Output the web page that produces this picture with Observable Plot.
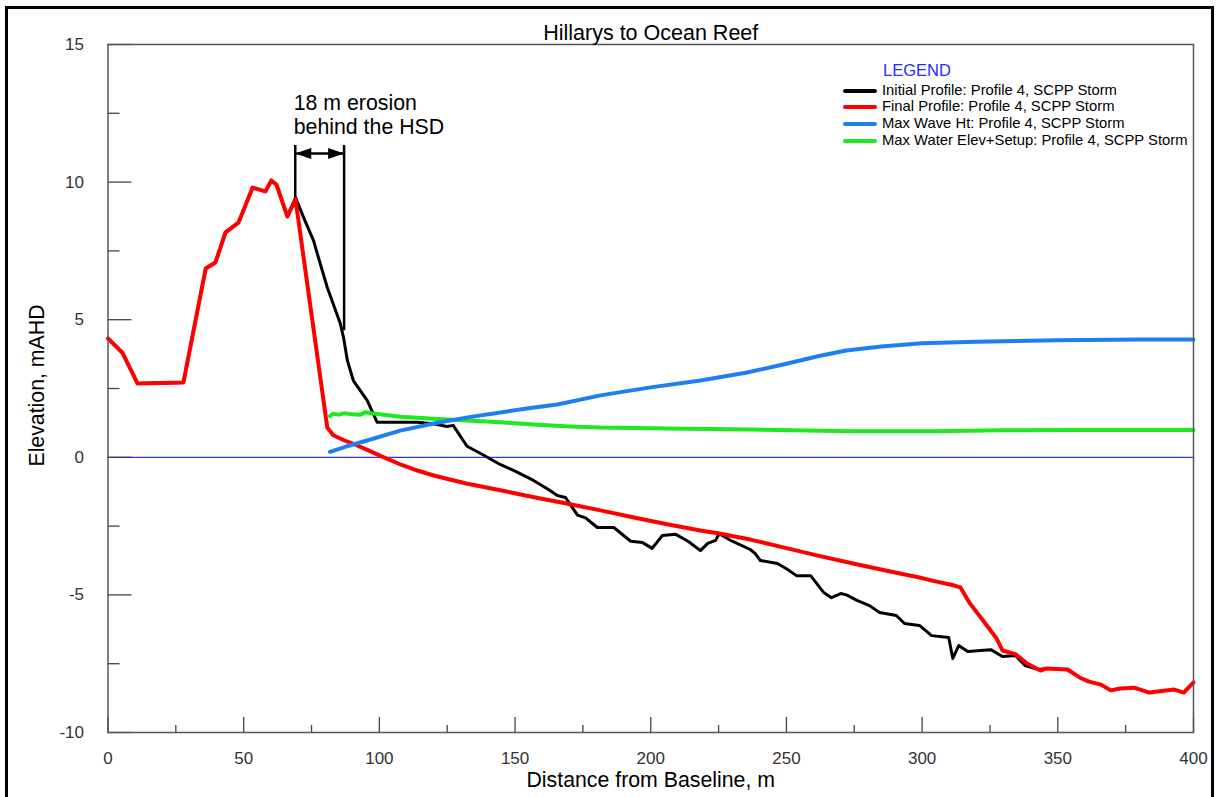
<!DOCTYPE html>
<html>
<head>
<meta charset="utf-8">
<script src="https://cdn.jsdelivr.net/npm/d3@7"></script>
<script src="https://cdn.jsdelivr.net/npm/@observablehq/plot@0.6"></script>
<style>
html, body { margin: 0; padding: 0; background: #fff; overflow: hidden; width: 1220px; height: 797px; }
#wrap { position: relative; width: 1220px; height: 797px; font-family: 'Liberation Sans', Arial, Helvetica, sans-serif; }
#border { position: absolute; left: 5px; top: 6px; width: 1209px; height: 900px; border: 3px solid #000; box-sizing: border-box; pointer-events: none; }
#chart { position: absolute; left: 0; top: 0; }
.lg-title { position: absolute; font-size: 16.5px; line-height: 20px; color: #2a2aff; white-space: nowrap; }
.lg-row { position: absolute; font-size: 14.8px; line-height: 16.7px; color: #000; white-space: nowrap; padding-left: 39px; }
.lg-sw { position: absolute; left: 0; top: 7px; width: 34px; height: 4px; border-radius: 2px; }
</style>
</head>
<body>
<div id="wrap">
  <div id="chart"></div>
  <div id="legend"></div>
  <div id="border"></div>
</div>
<script>
// ---------- data ----------
const titleText = "Hillarys to Ocean Reef";
const xLabel = "Distance from Baseline, m";
const yLabel = "Elevation, mAHD";

const xMajor = [0, 50, 100, 150, 200, 250, 300, 350, 400];
const xMinor = [25, 75, 125, 175, 225, 275, 325, 375];
const yMajor = [15, 10, 5, 0, -5, -10];
const yMinor = [12.5, 7.5, 2.5, -2.5, -7.5];

const seriesNames = [
  "Initial Profile: Profile 4, SCPP Storm",
  "Final Profile: Profile 4, SCPP Storm",
  "Max Wave Ht: Profile 4, SCPP Storm",
  "Max Water Elev+Setup: Profile 4, SCPP Storm"
];
const seriesColors = ["#000000", "#ff0000", "#1e80f0", "#1ee81e"];

// Initial profile (black)
const initialX = [0, 5.3, 10.9, 27.8, 36, 39.6, 43.3, 48.1, 53.3, 58, 60.2, 62.1, 66.1, 69.1,
  72.1, 75.7, 80.8, 85.6, 86.8, 88.2, 90.4, 95.5, 99.2, 113.9, 120, 124.9, 127.2, 132.3, 138, 144.5,
  150, 156.8, 162, 165.6, 168.6, 173, 176, 180.3, 186.4, 192.6, 197, 200.5, 204.3, 209.2, 213.9,
  218.3, 221, 223.9, 225.2, 230, 236.7, 238.5, 240.4, 246.7, 250, 253.7, 258.9, 263.7, 266.6, 270,
  272.1, 276, 280.6, 284.3, 290.5, 293.5, 299, 303.5, 309.8, 311.3, 313.5, 316.8, 325.3, 329.6,
  334.4, 338, 342.9, 345.8];
const initialY = [4.32, 3.8, 2.68, 2.72, 6.86, 7.08, 8.17, 8.53, 9.8, 9.66, 10.06, 9.9, 8.75, 9.44,
  8.71, 7.88, 6.17, 4.86, 4.35, 3.52, 2.79, 2.07, 1.27, 1.27, 1.22, 1.12, 1.16, 0.4, 0.1, -0.26,
  -0.5, -0.84, -1.15, -1.39, -1.46, -2.1, -2.2, -2.55, -2.55, -3.05, -3.1, -3.31, -2.84, -2.8, -3.06,
  -3.39, -3.13, -3.02, -2.78, -3.05, -3.35, -3.5, -3.75, -3.86, -4.05, -4.3, -4.3, -4.91, -5.1, -4.95,
  -5.0, -5.2, -5.39, -5.64, -5.75, -6.04, -6.11, -6.48, -6.55, -7.31, -6.84, -7.06, -6.99, -7.24,
  -7.2, -7.57, -7.71, -7.67];

// Final profile (red)
const finalX = [0, 5.3, 10.9, 27.8, 36, 39.6, 43.3, 48.1, 53.3, 58, 60.2, 62.1, 66.1, 69.1,
  80.8, 83, 87, 91.8, 96, 100.4, 108, 114, 120, 132, 144.6, 157, 169, 181.5, 193.8, 206, 218.3, 225.3,
  236.7, 250, 262, 275, 287, 299, 304.9, 311.9, 314.1, 317.4, 323.3, 327.4, 329.6, 334.4, 338.8,
  343.6, 345.8, 353.6, 358, 361.5, 365.9, 369.5, 373, 378.1, 383.7, 392.9, 396.4, 400];
const finalY = [4.32, 3.8, 2.68, 2.72, 6.86, 7.08, 8.17, 8.53, 9.8, 9.66, 10.06, 9.9, 8.75, 9.37,
  1.08, 0.8, 0.62, 0.43, 0.25, 0.05, -0.27, -0.48, -0.66, -0.95, -1.2, -1.45, -1.68, -1.93, -2.19, -2.43, -2.66, -2.77,
  -2.99, -3.3, -3.58, -3.87, -4.12, -4.37, -4.51, -4.66, -4.73, -5.28, -6.04, -6.58, -7.02, -7.15, -7.5,
  -7.75, -7.67, -7.71, -8.0, -8.15, -8.26, -8.47, -8.4, -8.37, -8.55, -8.44, -8.55, -8.18];

// Max wave height (blue)
const waveX = [81.8, 88, 95.5, 107.7, 120, 132.5, 144.6, 155, 165.6, 181.5, 200, 218.3, 235, 250,
  262, 272, 285, 300, 320, 350, 380, 400];
const waveY = [0.2, 0.4, 0.61, 0.97, 1.23, 1.45, 1.63, 1.78, 1.92, 2.25, 2.54, 2.79, 3.07, 3.4,
  3.68, 3.88, 4.03, 4.14, 4.2, 4.25, 4.28, 4.28];

// Max water elevation + setup (green)
const waterX = [81.8, 83, 85, 87, 90, 93, 95, 97, 107.7, 120, 132.5, 144.6, 156.8, 170, 181.5,
  206, 236.7, 273.6, 305, 329, 360, 400];
const waterY = [1.5, 1.58, 1.55, 1.6, 1.56, 1.55, 1.64, 1.6, 1.47, 1.4, 1.34, 1.27, 1.19, 1.12, 1.08,
  1.05, 1.01, 0.95, 0.95, 0.98, 0.99, 0.99];

// Erosion annotation (18 m behind the HSD)
const erosionX = [69, 87];
const erosionTop = [11.33, 11.33];
const erosionBottom = [9.44, 4.6];
const erosionArrowY = 11.04;
const annotLines = ["18 m erosion", "behind the HSD"];
const annotY = [12.87, 12.0];

// ---------- chart ----------
const W = 1220, H = 797, mL = 107.5, mR = 27, mT = 44, mB = 65;
const plotW = W - mL - mR, plotH = H - mT - mB;
const font = "'Liberation Sans', Arial, Helvetica, sans-serif";
const rows = (xs, ys) => xs.map((x, i) => ({x, y: ys[i]}));

const headSymbol = {
  draw(ctx) { ctx.moveTo(0, 0); ctx.lineTo(16, -5.5); ctx.lineTo(16, 5.5); ctx.closePath(); }
};

const tickStyle = {stroke: "#444", strokeWidth: 1.3};

const chart = Plot.plot({
  width: W, height: H,
  marginLeft: mL, marginRight: mR, marginTop: mT, marginBottom: mB,
  x: {domain: [0, 400], axis: null},
  y: {domain: [-10, 15], axis: null},
  style: {fontFamily: font, background: "transparent", overflow: "visible"},
  marks: [
    Plot.ruleY([0], {stroke: "#0000ff", strokeWidth: 1}),
    Plot.tickY(yMinor, {y: d => d, insetRight: plotW - 12, ...tickStyle}),
    Plot.tickY(yMajor, {y: d => d, insetRight: plotW - 24, ...tickStyle}),
    Plot.tickX(xMinor, {x: d => d, insetTop: plotH - 7, ...tickStyle}),
    Plot.tickX(xMajor, {x: d => d, insetTop: plotH - 15, ...tickStyle}),
    // erosion markers
    Plot.ruleX(erosionX.map((x, i) => ({x, y1: erosionBottom[i], y2: erosionTop[i]})),
      {x: "x", y1: "y1", y2: "y2", stroke: "#000", strokeWidth: 2.5}),
    Plot.link([{x1: erosionX[0], x2: erosionX[1], y: erosionArrowY}],
      {x1: "x1", x2: "x2", y1: "y", y2: "y", stroke: "#000", strokeWidth: 2.5}),
    Plot.dot([{x: erosionX[0], r: 0}, {x: erosionX[1], r: 180}],
      {x: "x", y: () => erosionArrowY, rotate: "r", symbol: headSymbol, fill: "#000", stroke: "none"}),
    Plot.text(annotLines.map((t, i) => ({t, y: annotY[i]})),
      {x: () => erosionX[0], y: "y", text: "t", dx: -1.5, textAnchor: "start", lineAnchor: "middle",
       fontSize: 21.3, fill: "#000"}),
    // series
    Plot.line(rows(initialX, initialY), {x: "x", y: "y", stroke: seriesColors[0], strokeWidth: 3, strokeLinejoin: "round"}),
    Plot.line(rows(finalX, finalY), {x: "x", y: "y", stroke: seriesColors[1], strokeWidth: 4, strokeLinejoin: "round"}),
    Plot.line(rows(waterX, waterY), {x: "x", y: "y", stroke: seriesColors[3], strokeWidth: 4, strokeLinejoin: "round"}),
    Plot.line(rows(waveX, waveY), {x: "x", y: "y", stroke: seriesColors[2], strokeWidth: 4, strokeLinejoin: "round"}),
    Plot.frame({stroke: "#555", strokeWidth: 1.5}),
    // tick labels
    Plot.text(yMajor, {y: d => d, text: d => String(d), frameAnchor: "left", dx: -24, textAnchor: "end",
      lineAnchor: "middle", fontSize: 17, fill: "#333"}),
    Plot.text(xMajor, {x: d => d, text: d => String(d), frameAnchor: "bottom", dy: 26,
      lineAnchor: "middle", fontSize: 17, fill: "#333"}),
    // titles
    Plot.text([titleText], {frameAnchor: "top", dy: -11.8, lineAnchor: "middle", fontSize: 21.5, fill: "#000"}),
    Plot.text([xLabel], {frameAnchor: "bottom", dy: 47.8, lineAnchor: "middle", fontSize: 21.3, fill: "#000"}),
    Plot.text([yLabel], {frameAnchor: "left", dx: -71.2, dy: -3, rotate: -90, textAnchor: "middle",
      lineAnchor: "middle", fontSize: 21.3, fill: "#000"})
  ]
});
document.getElementById("chart").appendChild(chart);

// legend (inside plot area, top right)
const legend = document.getElementById("legend");
const lt = document.createElement("div");
lt.className = "lg-title";
lt.style.left = "883px"; lt.style.top = "60.3px";
lt.textContent = "LEGEND";
legend.appendChild(lt);
seriesNames.forEach((name, i) => {
  const r = document.createElement("div");
  r.className = "lg-row";
  r.style.left = "843px";
  r.style.top = (81.6 + i * 16.7) + "px";
  const sw = document.createElement("span");
  sw.className = "lg-sw";
  sw.style.background = seriesColors[i];
  r.appendChild(sw);
  r.appendChild(document.createTextNode(name));
  legend.appendChild(r);
});
</script>
</body>
</html>
